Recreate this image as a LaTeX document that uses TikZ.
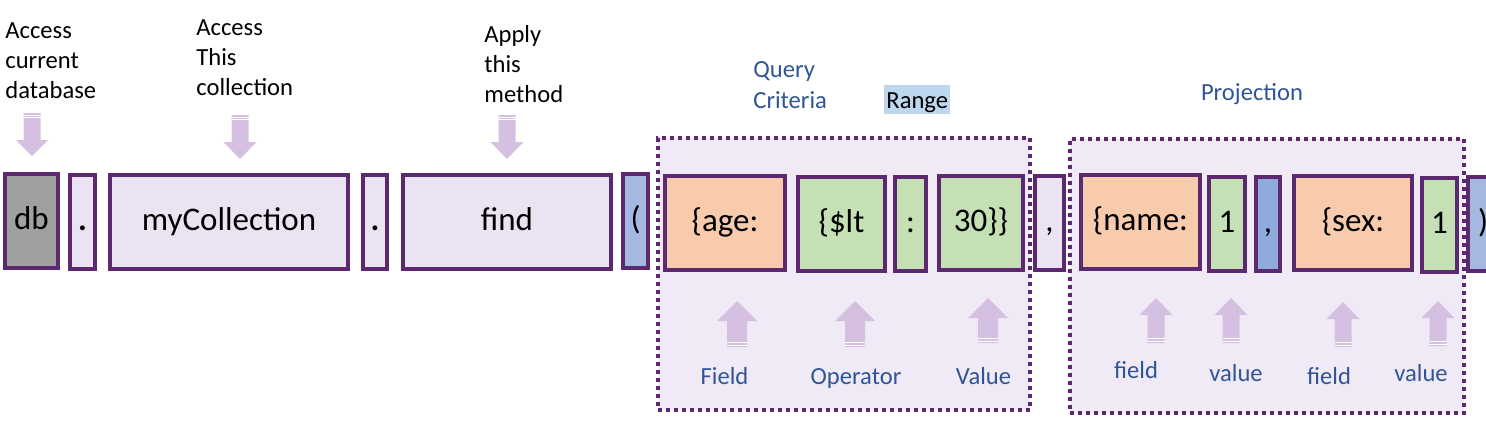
\documentclass[tikz,border=0pt]{standalone}
\usepackage{fontspec}
\setmainfont{Carlito}
\usetikzlibrary{positioning}
\definecolor{boxline}{RGB}{92,40,112}
\definecolor{tokfill}{RGB}{235,226,242}
\definecolor{groupfill}{RGB}{240,234,246}
\definecolor{dbfill}{RGB}{160,160,160}
\definecolor{keyfill}{RGB}{248,203,173}
\definecolor{valfill}{RGB}{197,224,180}
\definecolor{parenfill}{RGB}{164,184,226}
\definecolor{sepfill}{RGB}{143,170,220}
\definecolor{arrowfill}{RGB}{213,192,226}
\definecolor{noteblue}{RGB}{47,85,151}
\definecolor{rangebg}{RGB}{189,215,238}

\tikzset{
    pics/fatarrow/.style n args={4}{code={
        % #1 half shaft, #2 half head, #3 length, #4 head length
        \fill[arrowfill] (-#1,0) -- (#1,0) -- (#1,#3-#4) -- (#2,#3-#4) -- (0,#3)
            -- (-#2,#3-#4) -- (-#1,#3-#4) -- cycle;
        \draw[white, line width=0.4pt] (-#1,2) -- (#1,2) (-#1,4.5) -- (#1,4.5);
    }},
}

\begin{document}
\begin{tikzpicture}[
    x=0.5pt, y=-0.5pt,
    tok/.style={
        draw=boxline, line width=2pt, minimum height=47pt, inner sep=0pt,
        text height=12pt, text depth=3.5pt,
        font=\fontsize{16.5}{20}\selectfont,
    },
    note/.style={
        font=\fontsize{12.3}{15}\selectfont, align=left, inner sep=0pt, anchor=base west,
    },
    bluenote/.style={
        font=\fontsize{12.3}{15}\selectfont, text=noteblue, inner sep=0pt, anchor=base,
    },
    group/.style={
        draw=boxline, line width=2pt, dash pattern=on 2pt off 2pt, fill=groupfill,
        inner sep=0pt,
    },
]
    \useasboundingbox (0,0) rectangle (1486,444);

    % dotted groups
    \node[group, minimum width=186pt, minimum height=136pt] (criteria) at (844,274) {};
    \node[group, minimum width=197pt, minimum height=137pt] (projection) at (1267,276) {};

    % the statement
    \node[tok, fill=dbfill, minimum width=26.5pt] (db) at (31.5,221) {db};
    \node[tok, fill=tokfill, minimum width=12.5pt] (dotA) at (82.5,222) {\textbf{.}};
    \node[tok, fill=tokfill, minimum width=119pt] (coll) at (229,222) {myCollection};
    \node[tok, fill=tokfill, minimum width=12pt] (dotB) at (375,222) {\textbf{.}};
    \node[tok, fill=tokfill, minimum width=104pt] (find) at (507,222) {find};
    \node[tok, fill=parenfill, minimum width=12.5pt] (lparen) at (635.5,221) {(};
    \node[tok, fill=keyfill, minimum width=60pt] (age) at (725,223) {\{age:};
    \node[tok, fill=valfill, minimum width=43.5pt] (lt) at (841.5,223.5) {\{\$lt};
    \node[tok, fill=valfill, minimum width=15.5pt] (colon) at (910.5,223.5) {:};
    \node[tok, fill=valfill, minimum width=42pt] (thirty) at (981,223) {30\}\}};
    \node[tok, fill=tokfill, minimum width=14.5pt] (commaA) at (1049.5,223) {,};
    \node[tok, fill=keyfill, minimum width=59.5pt] (name) at (1140.5,222) {\{name:};
    \node[tok, fill=valfill, minimum width=18pt] (oneA) at (1227,223.5) {1};
    \node[tok, fill=sepfill, minimum width=12pt] (commaB) at (1268,223.5) {,};
    \node[tok, fill=keyfill, minimum width=59pt] (sex) at (1353,223) {\{sex:};
    \node[tok, fill=valfill, minimum width=17.5pt] (oneB) at (1439.5,224.5) {1};
    \node[tok, fill=parenfill, minimum width=15pt] (rparen) at (1483,223.5) {)};

    % notes above
    \node[note] (dbnote) at (5,98) {Access\\current\\database};
    \node[note] (collnote) at (196,96) {Access\\This\\collection};
    \node[note] (findnote) at (484,103) {Apply\\this\\method};
    \node[note, text=noteblue] (critnote) at (753,108) {Query\\Criteria};
    \node[note, fill=rangebg, inner xsep=1pt, inner ysep=1pt, text height=11pt,
        text depth=1.5pt] (rangenote) at (884,109) {Range};
    \node[bluenote] (projnote) at (1252,101) {Projection};

    \pic at (32,113) {fatarrow={8.5}{16}{43}{16}};
    \pic at (240,115) {fatarrow={8.5}{16.5}{44}{17}};
    \pic at (507,115) {fatarrow={8.5}{16.5}{44}{17}};

    % notes below
    \pic[rotate=180] at (737,347) {fatarrow={10}{20}{46}{20}};
    \pic[rotate=180] at (855,347) {fatarrow={10}{20}{46}{20}};
    \pic[rotate=180] at (988,343) {fatarrow={10}{20}{45}{20}};
    \pic[rotate=180] at (1156,343) {fatarrow={8.5}{16.5}{45}{17}};
    \pic[rotate=180] at (1231,343) {fatarrow={8.5}{16.5}{45}{17}};
    \pic[rotate=180] at (1343,347) {fatarrow={8.5}{16.5}{45}{17}};
    \pic[rotate=180] at (1438,346) {fatarrow={8.5}{16.5}{45}{17}};

    \node[bluenote] (fieldnote) at (724.5,384) {Field};
    \node[bluenote] (opnote) at (856,384) {Operator};
    \node[bluenote] (valnote) at (983.5,384) {Value};
    \node[bluenote] (fieldA) at (1136,378) {field};
    \node[bluenote] (valA) at (1236,381) {value};
    \node[bluenote] (fieldB) at (1329,384) {field};
    \node[bluenote] (valB) at (1421,381) {value};
\end{tikzpicture}
\end{document}
